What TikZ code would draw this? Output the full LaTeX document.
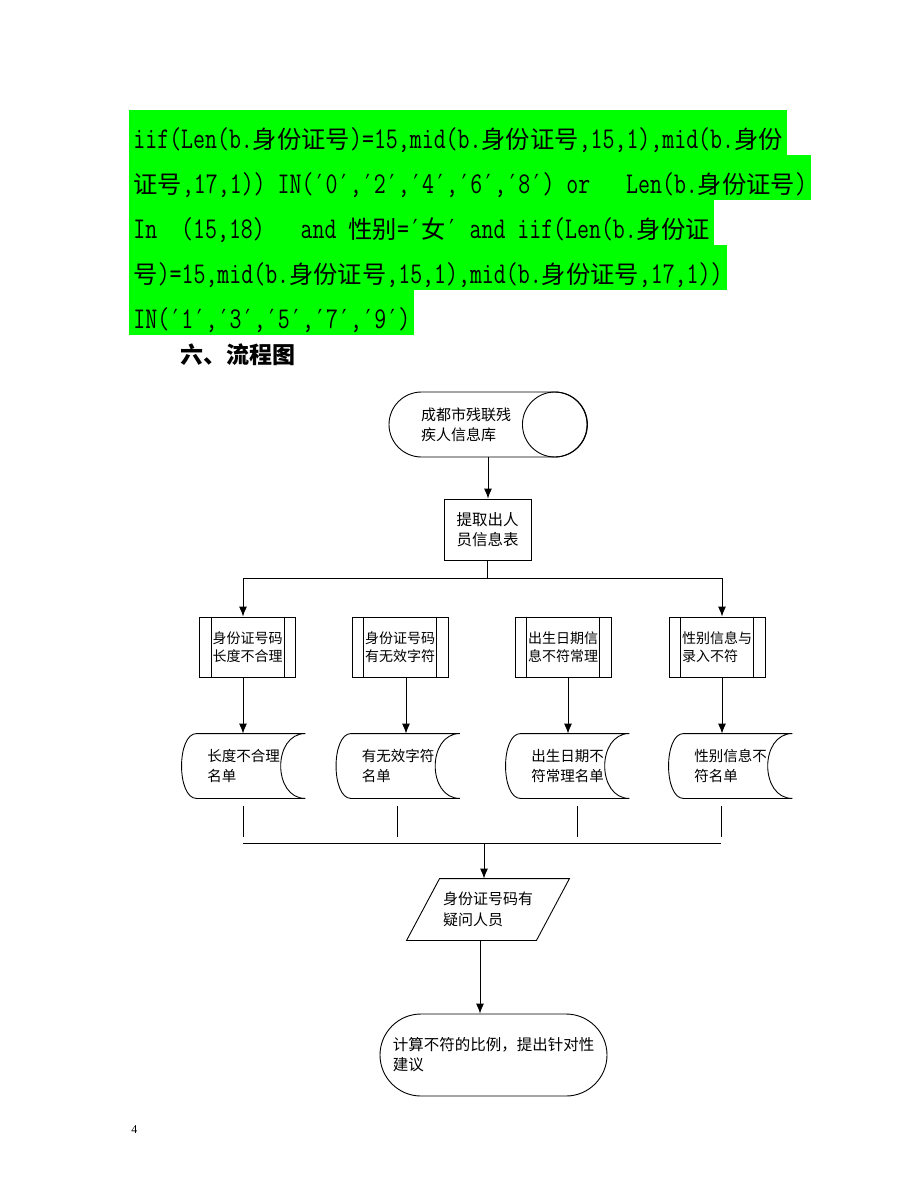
\documentclass[tikz,border=0pt]{standalone}
\usepackage{fontspec}
\usepackage{graphicx}
\setmainfont{Liberation Serif}
\newfontfamily\cjk{Noto Sans CJK SC}
\newfontfamily\primefont{DejaVu Sans Mono}
\usetikzlibrary{arrows.meta,calc}

\definecolor{hlgreen}{RGB}{0,255,0}
\newcommand\zh[1]{{\cjk\fontsize{24.3}{25}\selectfont\scalebox{1}[0.77]{#1}}}
\newcommand\pr{{\primefont\fontsize{20.2}{22}\selectfont ′}}
\newcommand\codeline[1]{\scalebox{1}[1.3]{\ttfamily\fontsize{23.2}{25}\selectfont #1}}

\tikzset{every picture/.style={line width=0.9pt}}
\tikzset{
  codeln/.style={fill=hlgreen, anchor=base west, inner xsep=4, inner ysep=0, text height=38, text depth=7},
  flow/.style={draw, inner sep=0, align=left},
  proc/.style={flow, minimum width=96, minimum height=60, font=\cjk\fontsize{14}{18}\selectfont},
  store/.style={inner sep=0, align=left, minimum width=123, minimum height=64, font=\cjk\fontsize{14.5}{20}\selectfont},
  arr/.style={-{Latex[length=10pt,width=8pt]}}
}

\begin{document}
\begin{tikzpicture}[x=1pt,y=1pt,yscale=-1,xscale=1]
		\path[fill=white] (0,0) rectangle (920,1191);
		\useasboundingbox (0,0) rectangle (920,1191);
		
		%code lines
		\node[codeln] (c1) at (129,148) {\codeline{iif(Len(b.\zh{身份证号})=15,mid(b.\zh{身份证号},15,1),mid(b.\zh{身份}}};
		\node[codeln] (c2) at (129,193) {\codeline{\zh{证号},17,1)) IN(\pr0\pr,\pr2\pr,\pr4\pr,\pr6\pr,\pr8\pr) or\ \ \ Len(b.\zh{身份证号})}};
		\node[codeln] (c3) at (129,238) {\codeline{In\ \ (15,18)\ \ \ and \zh{性别}=\pr\zh{女}\pr{} and iif(Len(b.\zh{身份证}}};
		\node[codeln] (c4) at (129,283) {\codeline{\zh{号})=15,mid(b.\zh{身份证号},15,1),mid(b.\zh{身份证号},17,1))}};
		\node[codeln] (c5) at (129,328) {\codeline{IN(\pr1\pr,\pr3\pr,\pr5\pr,\pr7\pr,\pr9\pr)}};
		
		\node[anchor=west, inner sep=0, font=\cjk\bfseries\fontsize{23}{26}\selectfont] (title) at (180,355) {六、流程图};
		
		%Shape: Drum
		\node[flow, rounded corners=32.5, minimum width=198, minimum height=65, text width=134, font=\cjk\fontsize{15}{20}\selectfont] (db) at (488,424.5) {成都市残联残\\疾人信息库};
		\draw ($(db.east)+(-32.5,0)$) circle (32.5);
		
		%Shape: Rectangle
		\node[flow, minimum width=87, minimum height=61, font=\cjk\fontsize{15.5}{20}\selectfont] (get) at (487.5,529.5) {提取出人\\员信息表};
		
		%Shape: Predefined process
		\node[proc] (p1) at (247.5,647) {身份证号码\\长度不合理};
		\node[proc] (p2) at (400,647) {身份证号码\\有无效字符};
		\node[proc] (p3) at (563,647) {出生日期信\\息不符常理};
		\node[proc] (p4) at (717,647) {性别信息与\\录入不符};
		\foreach \n in {p1,p2,p3,p4} {
			\draw ($(\n.north west)+(12,0)$) -- ($(\n.south west)+(12,0)$);
			\draw ($(\n.north east)+(-12,0)$) -- ($(\n.south east)+(-12,0)$);
		}
		
		%Shape: Stored data
		\node[store] (s1) at (243.5,766) {长度不合理\\名单};
		\node[store] (s2) at (398,766) {有无效字符\\名单};
		\node[store] (s3) at (567.5,766) {出生日期不\\符常理名单};
		\node[store] (s4) at (730.5,766) {性别信息不\\符名单};
		\foreach \n in {s1,s2,s3,s4} {
			\draw ($(\n.north west)+(15,0)$) .. controls ($(\n.north west)+(-5,0)$) and ($(\n.south west)+(-5,0)$) .. ($(\n.south west)+(15,0)$) -- (\n.south east) .. controls ($(\n.south east)+(-33,0)$) and ($(\n.north east)+(-33,0)$) .. (\n.north east) -- cycle;
		}
		
		%Shape: Parallelogram
		\node[inner sep=0, align=left, minimum width=162, minimum height=61, font=\cjk\fontsize{15}{21}\selectfont] (q) at (488,909.5) {身份证号码有\\疑问人员};
		\draw ($(q.north west)+(33,0)$) -- (q.north east) -- ($(q.south east)+(-33,0)$) -- (q.south west) -- cycle;
		
		%Shape: Terminal
		\node[flow, rounded corners=41, minimum width=227, minimum height=82, font=\cjk\fontsize{15.5}{20}\selectfont] (fin) at (493.5,1055) {计算不符的比例，提出针对性\\建议};
		
		\node[anchor=west, inner sep=0, font=\fontsize{12}{14}\selectfont] (pg) at (131,1130) {4};
		
		%connectors
		\draw[arr] (db.south) -- (db.south |- get.north);
		\coordinate (sl) at (243,578);
		\coordinate (sr) at (722,578);
		\draw (get.south) -- (get.south |- sl);
		\draw (sl) -- (sr);
		\draw[arr] (sl) -- (sl |- p1.north);
		\draw[arr] (sr) -- (sr |- p4.north);
		\foreach \i/\x in {1/243,2/406,3/568,4/722} {
			\coordinate (x\i) at (\x,0);
			\draw[arr] (p\i.south -| x\i) -- (s\i.north -| x\i);
		}
		\foreach \x in {243,397,577,721}
			\draw (\x,806) -- (\x,837);
		\draw (243,843) -- (721,843);
		\coordinate (jn) at (484,843);
		\draw[arr] (jn) -- (jn |- q.north);
		\coordinate (qo) at (480,940);
		\draw[arr] (q.south -| qo) -- (qo |- fin.north);
		
\end{tikzpicture}
\end{document}
